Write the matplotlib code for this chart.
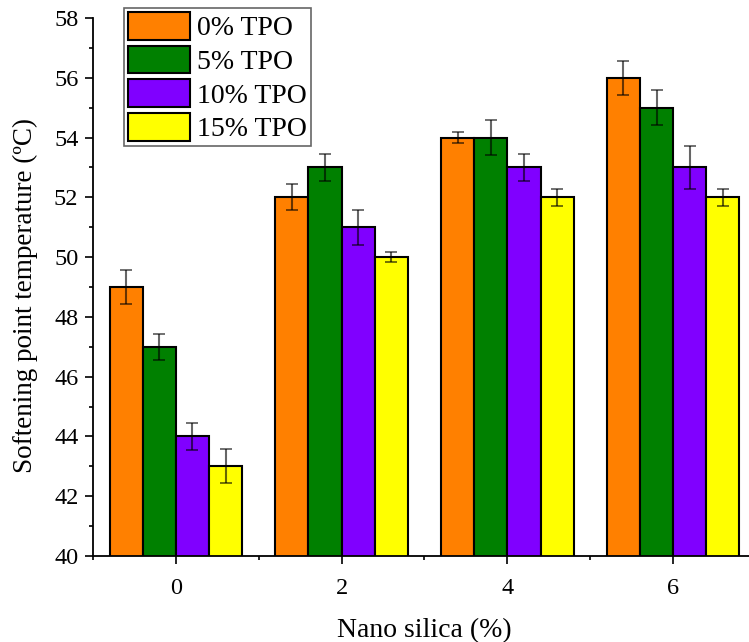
import numpy as np
import matplotlib.pyplot as plt
from matplotlib.ticker import MultipleLocator, FixedLocator

plt.rcParams['font.family'] = ['Liberation Serif', 'DejaVu Serif']

# ---------- data ----------
silica = ['0', '2', '4', '6']
series = ['0% TPO', '5% TPO', '10% TPO', '15% TPO']
colors = ['#FF8000', '#008000', '#8000FF', '#FFFF00']

tpo_0 = [49, 52, 54, 56]
tpo_5 = [47, 53, 54, 55]
tpo_10 = [44, 51, 53, 53]
tpo_15 = [43, 50, 52, 52]

err_0 = [0.57, 0.44, 0.17, 0.57]
err_5 = [0.43, 0.44, 0.60, 0.58]
err_10 = [0.45, 0.58, 0.44, 0.73]
err_15 = [0.57, 0.16, 0.29, 0.29]

values = [tpo_0, tpo_5, tpo_10, tpo_15]
errors = [err_0, err_5, err_10, err_15]

# ---------- figure ----------
W, H = 749, 642
fig = plt.figure(figsize=(W / 100, H / 100), dpi=100)
ax = fig.add_axes([93 / W, (H - 556) / H, 663 / W, 538 / H])

x = np.arange(len(silica))
width = 0.2
for i, (vals, errs) in enumerate(zip(values, errors)):
    pos = x + (i - 1.5) * width
    ax.bar(pos, vals, width, color=colors[i], edgecolor='black',
           linewidth=1.5, label=series[i], zorder=2)
    ax.errorbar(pos, vals, yerr=errs, fmt='none', ecolor='black',
                elinewidth=1.5, capsize=4.2, capthick=1.3, alpha=0.6, zorder=3)

ax.set_xlim(-0.5, 3.5)
ax.set_ylim(40, 58)

ax.set_xticks(x)
ax.set_xticklabels(silica)
ax.xaxis.set_minor_locator(FixedLocator([-0.5, 0.5, 1.5, 2.5, 3.5]))
ax.yaxis.set_major_locator(MultipleLocator(2))
ax.yaxis.set_minor_locator(MultipleLocator(1))

ax.tick_params(which='major', direction='out', length=5.5, width=1.2,
               labelsize=17.5, pad=5)
ax.tick_params(which='minor', direction='out', length=3, width=1.2)
ax.tick_params(axis='x', which='major', pad=10)

ax.spines['top'].set_visible(False)
ax.spines['right'].set_visible(False)
ax.spines['left'].set_linewidth(1.3)
ax.spines['bottom'].set_linewidth(1.3)

ax.set_xlabel('Nano silica (%)', fontsize=20, labelpad=14)
ax.set_ylabel('Softening point temperature (\u00baC)', fontsize=19.5)
ax.yaxis.set_label_coords(-0.083, 0.485)

leg = ax.legend(loc='upper left', bbox_to_anchor=(0.047, 1.0186),
                borderaxespad=0, fontsize=20, fancybox=False,
                edgecolor='#666666', framealpha=1,
                handlelength=2.23, handleheight=1.15, labelspacing=0.16,
                handletextpad=0.25, borderpad=0.15)
leg.get_frame().set_linewidth(1.2)

fig.savefig('out.png', dpi=100)
